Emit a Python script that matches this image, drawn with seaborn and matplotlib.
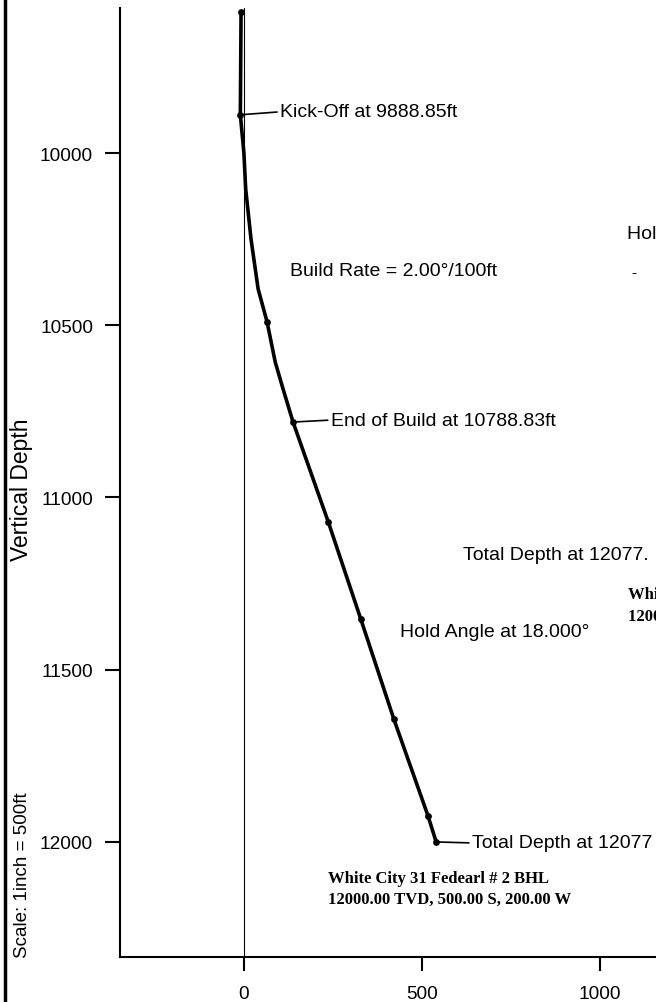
import matplotlib
matplotlib.use("Agg")
import matplotlib.pyplot as plt
import seaborn as sns
from matplotlib.lines import Line2D

# --- DATA ---
# well path: horizontal departure (ft) vs true vertical depth (ft)
path_departure = [-8, -10, 0, 5, 20, 40, 65, 88, 110, 138, 237, 328, 421, 517, 540]
path_depth = [9592, 9889, 10000, 10104, 10250, 10395, 10490, 10607, 10685, 10781,
              11071, 11352, 11643, 11924, 12000]

# survey stations drawn as dots
station_departure = [-8, -10, 65, 138, 237, 328, 421, 517, 540]
station_depth = [9592, 9889, 10490, 10781, 11071, 11352, 11643, 11924, 12000]

# key points with leader labels
kickoff = (-10, 9889)
end_of_build = (138, 10781)
total_depth = (540, 12000)

y_ticks = [10000, 10500, 11000, 11500, 12000]
x_ticks = [0, 500, 1000, 1500]

bhl_lines = ["White City 31 Fedearl # 2 BHL", "12000.00 TVD, 500.00 S, 200.00 W"]

# --- STYLE ---
sns.set_style("white")
plt.rcParams["font.family"] = ["Liberation Sans", "DejaVu Sans"]
plt.rcParams["text.color"] = "black"
plt.rcParams["xtick.color"] = "black"
plt.rcParams["ytick.color"] = "black"
plt.rcParams["axes.labelcolor"] = "black"

LABEL_SIZE = 14
SERIF = ["Liberation Serif", "DejaVu Serif"]

fig = plt.figure(figsize=(6.56, 10.03), dpi=100)
# axes runs past the right edge, the reference is a cropped page
ax = fig.add_axes([120 / 656, 45 / 1003, 1.003, 949 / 1003])

# thin reference line at zero departure
ax.axvline(0, color="black", lw=0.8, zorder=1)

sns.lineplot(x=path_departure, y=path_depth, sort=False, estimator=None,
             color="black", lw=2.6, ax=ax, zorder=3)
sns.scatterplot(x=station_departure, y=station_depth, color="black", s=24,
                edgecolor="black", linewidth=0, ax=ax, zorder=4)

ax.set_xlim(-348, 1500)
ax.set_ylim(12334, 9579)
ax.set_xticks(x_ticks)
ax.set_yticks(y_ticks)
ax.set_xticklabels([str(v) for v in x_ticks])
ax.set_yticklabels([str(v) for v in y_ticks])
ax.tick_params(axis="x", direction="out", length=10, width=1.5, pad=10,
               labelsize=13.7, bottom=True, color="black", labelcolor="black")
ax.tick_params(axis="y", direction="out", length=10.8, width=1.5, pad=8.6,
               labelsize=13.7, left=True, color="black", labelcolor="black")
for side in ["top", "right"]:
    ax.spines[side].set_visible(False)
for side in ["left", "bottom"]:
    ax.spines[side].set_linewidth(1.5)
    ax.spines[side].set_color("black")
ax.set_xlabel("")
ax.set_ylabel("")

# --- LEADER LABELS ---
leader = dict(arrowstyle="-", lw=1.2, color="black", shrinkA=0, shrinkB=0, relpos=(0, 0.5))
ax.annotate("Kick-Off at 9888.85ft", xy=kickoff, xytext=(40, 3),
            textcoords="offset pixels", ha="left", va="center",
            fontsize=LABEL_SIZE, arrowprops=leader)
ax.annotate("End of Build at 10788.83ft", xy=end_of_build, xytext=(38, 2),
            textcoords="offset pixels", ha="left", va="center",
            fontsize=LABEL_SIZE, arrowprops=leader)
ax.annotate("Total Depth at 12077", xy=total_depth, xytext=(36, -1),
            textcoords="offset pixels", ha="left", va="center",
            fontsize=LABEL_SIZE, arrowprops=leader)

# --- FREE LABELS ---
ax.text(129, 10341, "Build Rate = 2.00°/100ft", ha="left", va="center", fontsize=LABEL_SIZE)
ax.text(1076, 10235, "Hold Angle at 18.000°", ha="left", va="center", fontsize=LABEL_SIZE)
ax.text(1087, 10345, "-", ha="left", va="center", fontsize=11)
ax.text(615, 11165, "Total Depth at 12077.", ha="left", va="center", fontsize=LABEL_SIZE)
ax.text(438, 11390, "Hold Angle at 18.000°", ha="left", va="center", fontsize=LABEL_SIZE)

for line, y in zip(bhl_lines, [11280, 11344]):
    ax.text(1079, y, line, ha="left", va="center", fontsize=12,
            family=SERIF, weight="bold")
for line, y in zip(bhl_lines, [12104, 12165]):
    ax.text(236, y, line, ha="left", va="center", fontsize=12,
            family=SERIF, weight="bold")

# --- PAGE DECORATION ---
fig.text(0.033, 1 - 490 / 1003, "Vertical Depth", rotation=90,
         ha="center", va="center", fontsize=16.5)
fig.text(0.035, 1 - 875 / 1003, "Scale: 1inch = 500ft", rotation=90,
         ha="center", va="center", fontsize=13.5)
fig.add_artist(Line2D([0.008, 0.008], [0, 1], transform=fig.transFigure,
                      color="black", lw=2.5))

fig.savefig("out.png", dpi=100)
